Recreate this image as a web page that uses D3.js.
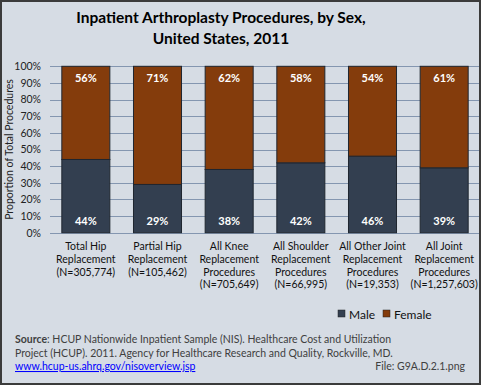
<!DOCTYPE html>
<html><head><meta charset="utf-8">
<script src="https://cdn.jsdelivr.net/npm/d3@7"></script>
<style>
html,body{margin:0;padding:0;background:#fff;}
svg{display:block;}
text{font-family:Lato,"Open Sans",sans-serif;}
</style></head>
<body>
<script>
const categories = [
  ["Total Hip","Replacement","(N=305,774)"],
  ["Partial Hip","Replacement","(N=105,462)"],
  ["All Knee","Replacement","Procedures","(N=705,649)"],
  ["All Shoulder","Replacement","Procedures","(N=66,995)"],
  ["All Other Joint","Replacement","Procedures","(N=19,353)"],
  ["All Joint","Replacement","Procedures","(N=1,257,603)"]
];
const maleValues = [44, 29, 38, 42, 46, 39];
const femaleValues = [56, 71, 62, 58, 54, 61];
const seriesNames = ["Male", "Female"];
const yTicks = [0,10,20,30,40,50,60,70,80,90,100];

const W = 481, H = 385;
const colors = {Male:"#333F50", Female:"#843C0C"};
const svg = d3.select("body").append("svg").attr("width", W).attr("height", H);

svg.append("rect").attr("x",1).attr("y",1).attr("width",W-2).attr("height",H-2)
  .attr("fill","#D6DCE4").attr("stroke","#3b3b3b").attr("stroke-width",2);

// Title
svg.append("text").attr("x",221).attr("y",23).attr("text-anchor","middle")
  .attr("font-size",15.5).attr("font-weight","bold").attr("fill","#000")
  .text("Inpatient Arthroplasty Procedures, by Sex,");
svg.append("text").attr("x",221).attr("y",44).attr("text-anchor","middle")
  .attr("font-size",15.5).attr("font-weight","bold").attr("fill","#000")
  .text("United States, 2011");

const plot = {left:50, right:480, top:66.3, bottom:232.7};
const x = d3.scaleBand().domain(d3.range(categories.length)).range([plot.left, plot.right]).paddingInner(0.33).paddingOuter(0.165);
const y = d3.scaleLinear().domain([0,100]).range([plot.bottom, plot.top]);

const clip = svg.append("clipPath").attr("id","c").append("rect").attr("x",0).attr("y",0).attr("width",W-2).attr("height",H);
// gridlines
svg.append("g").attr("clip-path","url(#c)").selectAll("line").data(yTicks.filter(d=>d>0)).join("line")
  .attr("x1",plot.left).attr("x2",plot.right)
  .attr("y1",d=>Math.round(y(d))+0.5).attr("y2",d=>Math.round(y(d))+0.5)
  .attr("stroke","#8496B0").attr("stroke-width",1);

// y axis labels
const yAxis = d3.axisLeft(y).tickValues(yTicks).tickFormat(d=>d+"%").tickSize(0).tickPadding(9);
const yg = svg.append("g").attr("transform",`translate(${plot.left},0)`).call(yAxis);
yg.select(".domain").remove();
yg.selectAll("text").attr("font-size",10.5).attr("fill","#222").attr("font-family","Lato,sans-serif");

// x axis line
svg.append("line").attr("x1",plot.left).attr("x2",W-2).attr("y1",Math.round(plot.bottom)+0.5).attr("y2",Math.round(plot.bottom)+0.5)
  .attr("stroke","#8496B0").attr("stroke-width",1);

// Stacked bars
const data = categories.map((c,i)=>({i, Male:maleValues[i], Female:femaleValues[i]}));
const stack = d3.stack().keys(seriesNames)(data);
const gBars = svg.append("g");
stack.forEach(s=>{
  gBars.selectAll(null).data(s).join("rect")
    .attr("x",d=>x(d.data.i)).attr("width",x.bandwidth())
    .attr("y",d=>y(d[1])).attr("height",d=>y(d[0])-y(d[1]))
    .attr("fill",colors[s.key]).attr("stroke","#1f2630").attr("stroke-width",1);
});

// Value labels
gBars.selectAll(null).data(data).join("text")
  .attr("x",d=>x(d.i)+x.bandwidth()/2).attr("y",y(100)+16)
  .attr("text-anchor","middle").attr("font-size",11).attr("font-weight","bold").attr("fill","#fff")
  .text(d=>d.Female+"%");
gBars.selectAll(null).data(data).join("text")
  .attr("x",d=>x(d.i)+x.bandwidth()/2).attr("y",y(0)-8)
  .attr("text-anchor","middle").attr("font-size",11).attr("font-weight","bold").attr("fill","#fff")
  .text(d=>d.Male+"%");

// category labels
const cg = svg.append("g");
categories.forEach((lines,i)=>{
  const t = cg.append("text").attr("text-anchor","middle").attr("font-size",10.5).attr("fill","#111");
  lines.forEach((ln,j)=>{
    t.append("tspan").attr("x",x(i)+x.bandwidth()/2).attr("y",250+j*12.8).text(ln);
  });
});

// y label
svg.append("text").attr("transform",`translate(13,${(plot.top+plot.bottom)/2}) rotate(-90)`)
  .attr("text-anchor","middle").attr("font-size",10.5).attr("fill","#222")
  .text("Proportion of Total Procedures");

// legend
const lg = svg.append("g");
const legendX = [338, 383];
seriesNames.forEach((n,i)=>{
  lg.append("rect").attr("x",legendX[i]).attr("y",310).attr("width",7).attr("height",7)
    .attr("fill",colors[n]).attr("stroke","#222").attr("stroke-width",0.5);
  lg.append("text").attr("x",legendX[i]+11).attr("y",318.5).attr("font-size",12).attr("fill","#111").text(n);
});

// source
const src = svg.append("text").attr("x",15).attr("y",343).attr("font-size",10.5).attr("fill","#404040");
src.append("tspan").attr("font-weight","bold").text("Source");
src.append("tspan").text(": HCUP Nationwide Inpatient Sample (NIS). Healthcare Cost and Utilization");
svg.append("text").attr("x",15).attr("y",357).attr("font-size",10.5).attr("fill","#404040")
  .text("Project (HCUP). 2011. Agency for Healthcare Research and Quality, Rockville, MD.");
svg.append("text").attr("x",15).attr("y",370).attr("font-size",10.5).attr("fill","#0000ff")
  .attr("text-decoration","underline").text("www.hcup-us.ahrq.gov/nisoverview.jsp");
svg.append("text").attr("x",465).attr("y",370).attr("text-anchor","end").attr("font-size",10.5).attr("fill","#404040")
  .text("File: G9A.D.2.1.png");
</script>
</body></html>
